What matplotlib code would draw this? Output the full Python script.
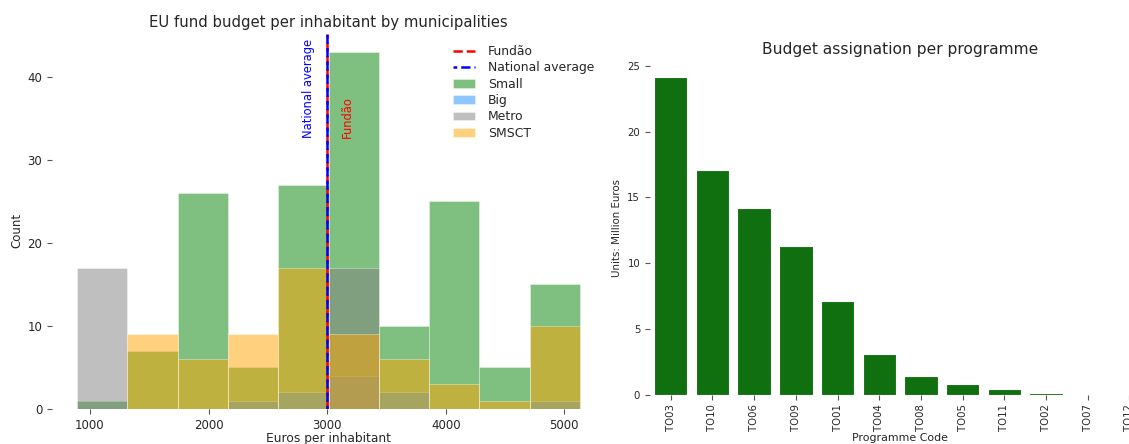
import numpy as np
import matplotlib
matplotlib.use("Agg")
import matplotlib.pyplot as plt

# ---- histogram data: counts per bin of euros per inhabitant ----
bin_edges = np.linspace(892, 5132, 11)
small_counts = [1, 7, 26, 5, 27, 43, 10, 25, 5, 15]
big_counts = [0, 0, 0, 1, 2, 4, 2, 0, 0, 1]
metro_counts = [17, 0, 0, 0, 0, 17, 0, 0, 0, 0]
smsct_counts = [0, 9, 6, 9, 17, 9, 6, 3, 1, 10]
fundao_value = 3003
national_average = 2997

# ---- programme budgets (million euros) ----
programmes = ["TO03", "TO10", "TO06", "TO09", "TO01", "TO04",
              "TO08", "TO05", "TO11", "TO02", "TO07", "TO12"]
budgets = [24.16, 17.05, 14.17, 11.28, 7.15, 3.1,
           1.4, 0.84, 0.46, 0.13, 0.05, 0.01]

TEXT = "#262626"
plt.rcParams.update({
    "font.family": "DejaVu Sans",
    "text.color": TEXT,
    "axes.labelcolor": TEXT,
    "xtick.color": "#555555",
    "ytick.color": "#555555",
    "xtick.labelcolor": TEXT,
    "ytick.labelcolor": TEXT,
})

fig = plt.figure(figsize=(11.29, 4.44), dpi=100)

# ---------------- left: histogram ----------------
ax1 = fig.add_axes([0.046, 0.0788, 0.49, 0.845])
centers = (bin_edges[:-1] + bin_edges[1:]) / 2

ax1.axvline(fundao_value, color="red", linestyle=(0, (3.7, 1.6)), linewidth=1.8,
            label="Fundão")
ax1.axvline(national_average, color="blue", linestyle=(2.2, (3.7, 1.6)), linewidth=1.8,
            label="National average")

groups = [("Small", small_counts, "green"),
          ("Big", big_counts, "dodgerblue"),
          ("Metro", metro_counts, "gray"),
          ("SMSCT", smsct_counts, "orange")]
for name, counts, col in groups:
    ax1.hist(centers, bins=bin_edges, weights=counts, color=col, alpha=0.5,
             label=name, edgecolor="white", linewidth=0.5)

ax1.text(national_average - 100, 32.6, "National average", rotation=90,
         color="blue", ha="right", va="bottom", fontsize=8.3)
ax1.text(fundao_value + 110, 32.6, "Fundão", rotation=90,
         color="red", ha="left", va="bottom", fontsize=8.3)

ax1.set_xticks([1000, 2000, 3000, 4000, 5000])
ax1.set_yticks([0, 10, 20, 30, 40])
ax1.tick_params(labelsize=8.5, length=3.5, width=0.8)
ax1.set_xlabel("Euros per inhabitant", fontsize=8.8, labelpad=0)
ax1.set_ylabel("Count", fontsize=8.5)
ax1.yaxis.set_label_coords(-0.052, 0.477)
ax1.set_title("EU fund budget per inhabitant by municipalities", fontsize=10.7, pad=5)
for s in ax1.spines.values():
    s.set_visible(False)
ax1.legend(loc="upper right", frameon=False, fontsize=8.9,
           bbox_to_anchor=(1.0, 1.0), handlelength=1.8, handletextpad=1.0,
           labelspacing=0.27)

# ---------------- right: bar chart ----------------
ax2 = fig.add_axes([0.5757, 0.111, 0.443, 0.7514])
x = np.arange(len(programmes))
ax2.bar(x, budgets, width=0.8, color="#107010", edgecolor="white", linewidth=0.8)
ax2.set_xlim(-0.5, len(programmes) - 0.5)
ax2.set_xticks(x)
ax2.set_xticklabels(programmes, rotation=90)
ax2.set_yticks([0, 5, 10, 15, 20, 25])
ax2.tick_params(labelsize=7.3, length=3.5, width=0.8)
ax2.set_xlabel("Programme Code", fontsize=7.9, labelpad=1)
ax2.set_ylabel("Units: Million Euros", fontsize=7.4)
ax2.set_title("Budget assignation per programme", fontsize=11.2, pad=5)
for s in ax2.spines.values():
    s.set_visible(False)

fig.savefig("out.png", dpi=100)
